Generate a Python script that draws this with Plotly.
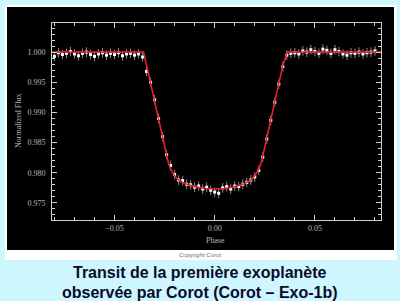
import plotly.graph_objects as go

# ---- data ----
model_phase = [-0.0812, -0.0355, -0.034, -0.032, -0.030, -0.028, -0.026, -0.024, -0.023, -0.022,
               -0.020, -0.018, -0.015, -0.010, -0.005, 0.000, 0.005, 0.010, 0.015, 0.018,
               0.020, 0.022, 0.023, 0.024, 0.026, 0.028, 0.030, 0.032, 0.034, 0.0362, 0.0830]
model_flux = [1.0000, 1.0000, 0.9978, 0.9948, 0.9918, 0.9888, 0.9858, 0.9828, 0.9815, 0.9806,
              0.9795, 0.9788, 0.9782, 0.9777, 0.9774, 0.9773, 0.9774, 0.9777, 0.9782, 0.9788,
              0.9795, 0.9806, 0.9815, 0.9828, 0.9858, 0.9888, 0.9918, 0.9948, 0.9978, 1.0000, 1.0000]

obs_phase = [-0.080, -0.078, -0.076, -0.074, -0.072, -0.070, -0.068, -0.066, -0.064, -0.062,
             -0.060, -0.058, -0.056, -0.054, -0.052, -0.050, -0.048, -0.046, -0.044, -0.042,
             -0.040, -0.038, -0.036, -0.034, -0.032, -0.030, -0.028, -0.026, -0.024, -0.022,
             -0.020, -0.018, -0.016, -0.014, -0.012, -0.010, -0.008, -0.006, -0.004, -0.002,
             0.000, 0.002, 0.004, 0.006, 0.008, 0.010, 0.012, 0.014, 0.016, 0.018,
             0.020, 0.022, 0.024, 0.026, 0.028, 0.030, 0.032, 0.034, 0.036, 0.038,
             0.040, 0.042, 0.044, 0.046, 0.048, 0.050, 0.052, 0.054, 0.056, 0.058,
             0.060, 0.062, 0.064, 0.066, 0.068, 0.070, 0.072, 0.074, 0.076, 0.078, 0.080]
obs_flux = [0.9993, 0.9999, 0.9996, 0.9998, 1.0001, 0.9997, 0.9994, 0.9998, 1.0000, 0.9996,
            0.9993, 0.9997, 0.9999, 0.9995, 0.9998, 0.9996, 0.9999, 0.9994, 0.9997, 0.9998,
            0.9995, 0.9997, 0.9992, 0.9968, 0.9950, 0.9921, 0.9890, 0.9860, 0.9830, 0.9812,
            0.9797, 0.9788, 0.9787, 0.9781, 0.9780, 0.9776, 0.9778, 0.9773, 0.9776, 0.9771,
            0.9768, 0.9766, 0.9775, 0.9777, 0.9773, 0.9778, 0.9777, 0.9781, 0.9784, 0.9788,
            0.9793, 0.9804, 0.9826, 0.9856, 0.9887, 0.9917, 0.9947, 0.9976, 0.9995, 0.9998,
            0.9999, 0.9997, 1.0002, 1.0000, 1.0004, 1.0001, 0.9998, 1.0005, 1.0003, 0.9998,
            1.0004, 1.0001, 0.9997, 0.9995, 0.9999, 0.9998, 1.0000, 0.9997, 0.9999, 1.0000, 1.0002]
obs_err = 0.0008

x_ticks = [-0.05, 0.00, 0.05]
x_labels = ["\u22120.05", "0.00", "0.05"]
y_ticks = [0.975, 0.980, 0.985, 0.990, 0.995, 1.000]
y_labels = ["0.975", "0.980", "0.985", "0.990", "0.995", "1.000"]

caption_1 = "Transit de la première exoplanète"
caption_2 = "observée par Corot (Corot \u2013 Exo-1b)"
copyright_text = "Copyright Corot"

# ---- layout geometry (pixels) ----
W, H = 400, 301
L, R, T, B = 52, 381, 23, 220


def px(x):
    return (x - L) / (R - L)


def py(y):
    return (B - y) / (B - T)


fig = go.Figure()
fig.add_trace(go.Scatter(
    x=obs_phase, y=obs_flux, mode="markers",
    marker=dict(symbol="square", size=3, color="white"),
    error_y=dict(type="constant", value=obs_err, color="#8a8a8a", thickness=1, width=0),
    showlegend=False, hoverinfo="skip"))
fig.add_trace(go.Scatter(
    x=model_phase, y=model_flux, mode="lines",
    line=dict(color="#e8202a", width=1.6), showlegend=False, hoverinfo="skip"))

tickfont = dict(family="Liberation Serif", size=8, color="#b8b8b8")
axis_common = dict(showgrid=False, zeroline=False, showline=True, linecolor="#d0d0d0",
                   linewidth=1, mirror="ticks", ticks="inside", ticklen=5, tickcolor="#d0d0d0",
                   tickfont=tickfont)

fig.update_xaxes(range=[-0.0812, 0.0830], tickvals=x_ticks, ticktext=x_labels,
                 minor=dict(dtick=0.01, tick0=0, ticks="inside", ticklen=3, tickcolor="#d0d0d0"),
                 ticklabelstandoff=0,
                 **axis_common)
fig.update_yaxes(range=[0.97217, 1.00483], tickvals=y_ticks, ticktext=y_labels,
                 minor=dict(dtick=0.001, tick0=0.975, ticks="inside", ticklen=3, tickcolor="#d0d0d0"),
                 ticklabelstandoff=4,
                 **axis_common)

shapes = [
    dict(type="rect", xref="paper", yref="paper", x0=px(5), x1=px(397), y0=py(260), y1=py(5),
         fillcolor="white", line=dict(width=0), layer="below"),
    dict(type="rect", xref="paper", yref="paper", x0=px(7), x1=px(394), y0=py(250), y1=py(7),
         fillcolor="black", line=dict(width=0), layer="below"),
]

annotations = [
    dict(text="Normalized Flux", xref="paper", yref="paper", x=px(18), y=py(121), textangle=-90,
         showarrow=False, font=dict(family="Liberation Serif", size=8, color="#b8b8b8"),
         xanchor="center", yanchor="middle"),
    dict(text="Phase", xref="paper", yref="paper", x=px(215), y=py(240),
         showarrow=False, font=dict(family="Liberation Serif", size=8, color="#b8b8b8"),
         xanchor="center", yanchor="middle"),
    dict(text="<i>" + copyright_text + "</i>", xref="paper", yref="paper", x=px(200), y=py(255),
         showarrow=False, font=dict(family="Liberation Sans", size=6, color="#707070"),
         xanchor="center", yanchor="middle"),
    dict(text="<b>" + caption_1 + "</b>", xref="paper", yref="paper", x=px(200), y=py(272),
         showarrow=False, font=dict(family="Liberation Sans", size=16, color="#0a0a28"),
         xanchor="center", yanchor="middle"),
    dict(text="<b>" + caption_2 + "</b>", xref="paper", yref="paper", x=px(200), y=py(292),
         showarrow=False, font=dict(family="Liberation Sans", size=16, color="#0a0a28"),
         xanchor="center", yanchor="middle"),
]

fig.update_layout(
    width=W, height=H, autosize=False,
    margin=dict(l=L, r=W - R, t=T, b=H - B, pad=0),
    paper_bgcolor="#cdf6ff", plot_bgcolor="black",
    shapes=shapes, annotations=annotations,
)

fig.write_html("out.html", config={"displayModeBar": False})
